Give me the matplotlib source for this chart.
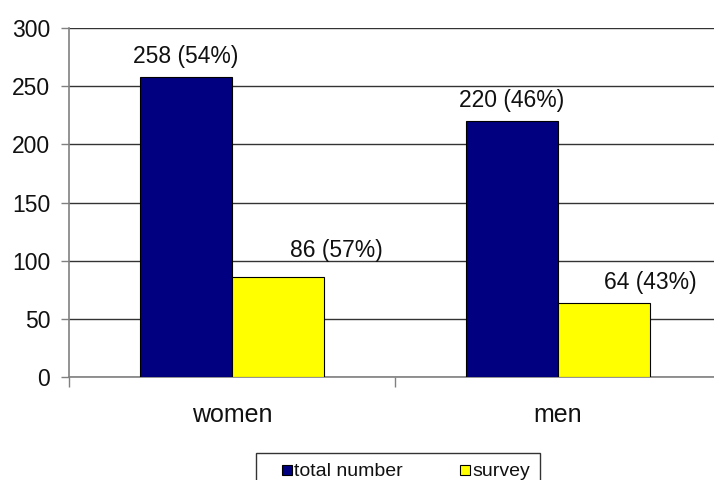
import matplotlib
matplotlib.use("Agg")
import matplotlib.pyplot as plt
from matplotlib.lines import Line2D
import numpy as np

plt.rcParams['font.family'] = ['Liberation Sans', 'DejaVu Sans']

categories = ["women", "men"]
series_names = ["total number", "survey"]
total_number = [258, 220]
survey = [86, 64]
total_labels = ["258 (54%)", "220 (46%)"]
survey_labels = ["86 (57%)", "64 (43%)"]
y_ticks = [0, 50, 100, 150, 200, 250, 300]

navy = "#000080"
yellow = "#ffff00"
text_color = "#111111"

fig = plt.figure(figsize=(7.14, 4.80), dpi=100)
ax = fig.add_axes([69 / 714, 1 - 377 / 480, (721 - 69) / 714, (377 - 28) / 480])

x = np.arange(len(categories))
w = 0.283
b1 = ax.bar(x - w / 2, total_number, w, color=navy, edgecolor="black", linewidth=0.8,
            label=series_names[0], zorder=3)
b2 = ax.bar(x + w / 2, survey, w, color=yellow, edgecolor="black", linewidth=0.8,
            label=series_names[1], zorder=3)

# value labels; the survey labels sit to the right of their bars
for rect, txt in zip(b1, total_labels):
    ax.annotate(txt, (rect.get_x() + rect.get_width() / 2, rect.get_height()),
                xytext=(0, 6.5), textcoords="offset points", ha="center", va="bottom",
                fontsize=16.5, color=text_color)
for rect, txt, dx, dy in zip(b2, survey_labels, [42, 33], [11, 6]):
    ax.annotate(txt, (rect.get_x() + rect.get_width() / 2, rect.get_height()),
                xytext=(dx, dy), textcoords="offset points", ha="center", va="bottom",
                fontsize=16.5, color=text_color)

ax.set_xlim(-0.5, 1.5)
ax.set_ylim(0, 300)
ax.set_yticks(y_ticks)
ax.tick_params(axis="y", labelsize=16.5, length=5.5, width=1, color="#808080", pad=8,
               labelcolor=text_color)
ax.yaxis.grid(True, color="#333333", linewidth=1, zorder=0)
ax.set_axisbelow(True)

ax.set_xticks([-0.5, 0.5, 1.5])
ax.set_xticklabels([])
ax.set_xticks(x, minor=True)
ax.set_xticklabels(categories, minor=True)
ax.tick_params(axis="x", which="major", length=7, width=1, color="#808080", direction="out")
ax.tick_params(axis="x", which="minor", length=0, pad=19, labelsize=18, labelcolor=text_color)

for s in ["top", "right"]:
    ax.spines[s].set_visible(False)
for s in ["left", "bottom"]:
    ax.spines[s].set_color("#808080")
    ax.spines[s].set_linewidth(1.2)

handles = [
    Line2D([], [], marker="s", linestyle="none", markersize=6.5,
           markerfacecolor=navy, markeredgecolor="black", markeredgewidth=0.8),
    Line2D([], [], marker="s", linestyle="none", markersize=6.5,
           markerfacecolor=yellow, markeredgecolor="black", markeredgewidth=0.8),
]
leg = fig.legend(handles=handles, labels=series_names, loc="upper left",
                 bbox_to_anchor=(256 / 714, 1 - 453 / 480), ncol=2, fontsize=14,
                 frameon=True, fancybox=False, edgecolor="black", handlelength=2.2,
                 handletextpad=-0.72, columnspacing=2.1,
                 borderpad=0.5, borderaxespad=0)
for t in leg.get_texts():
    t.set_color(text_color)
leg.get_frame().set_linewidth(1)

fig.savefig("out.png", dpi=100, facecolor="white")
